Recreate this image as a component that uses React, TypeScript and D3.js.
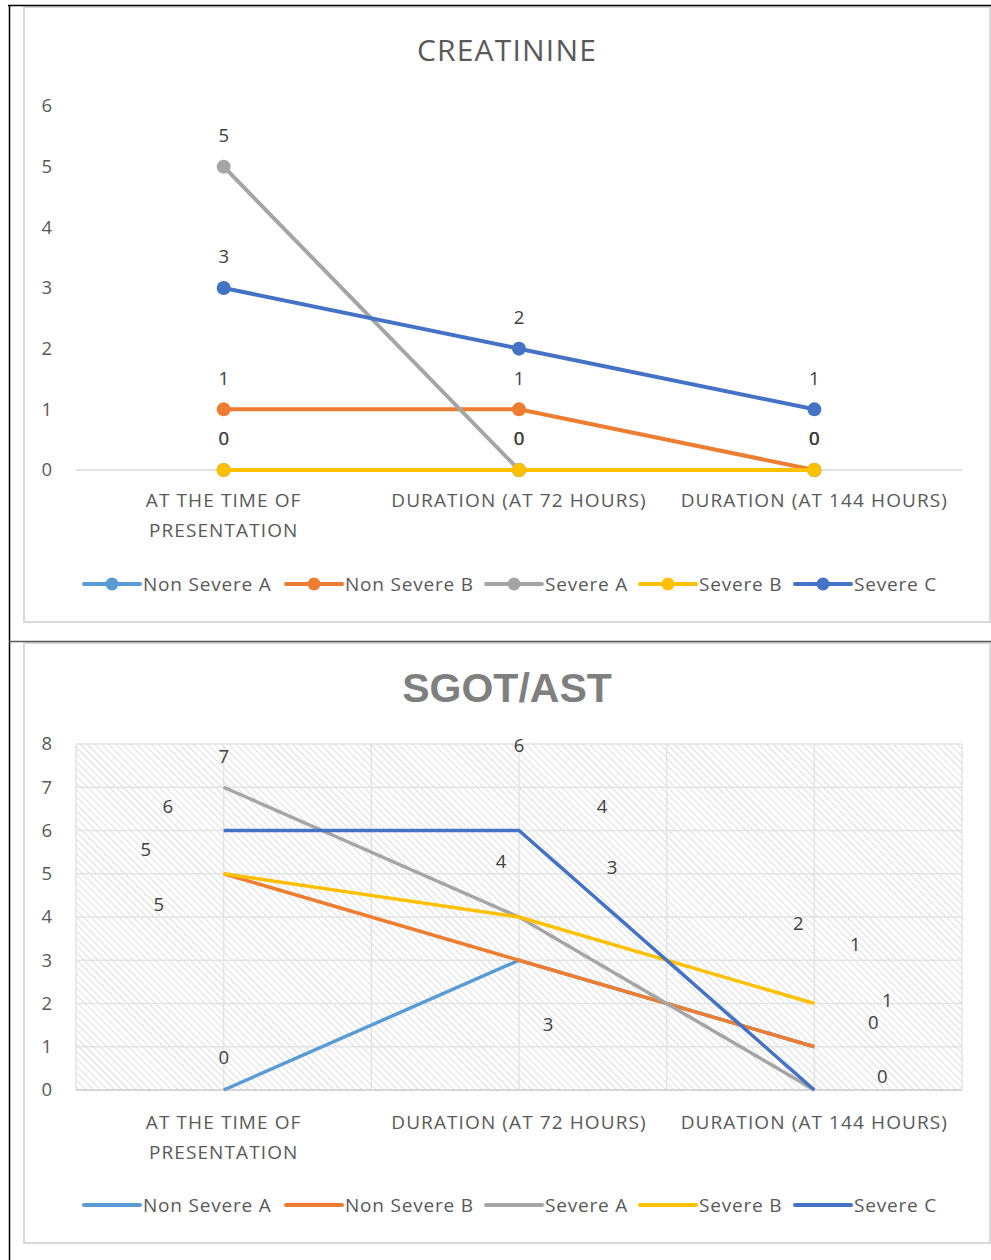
import React from "react";
import * as d3 from "d3";

const categories = ["AT THE TIME OF|PRESENTATION", "DURATION (AT 72 HOURS)", "DURATION (AT 144 HOURS)"];
const seriesNames = ["Non Severe A", "Non Severe B", "Severe A", "Severe B", "Severe C"];
const seriesColors = ["#5B9BD5", "#ED7D31", "#A5A5A5", "#FFC000", "#4472C4"];

// Creatinine values
const creatNonSevereA = [0, 0, 0];
const creatNonSevereB = [1, 1, 0];
const creatSevereA = [5, 0, 0];
const creatSevereB = [0, 0, 0];
const creatSevereC = [3, 2, 1];
const creatTicks = [0, 1, 2, 3, 4, 5, 6];

// SGOT/AST values
const astNonSevereA = [0, 3, 1];
const astNonSevereB = [5, 3, 1];
const astSevereA = [7, 4, 0];
const astSevereB = [5, 4, 2];
const astSevereC = [6, 6, 0];
const astTicks = [0, 1, 2, 3, 4, 5, 6, 7, 8];

// label nudges (px) for the misplaced data labels in the SGOT chart
const astLabelNudges: [number, number][][] = [
  [[0, -32], [29, 64], [73, -46]],
  [[-65, 31], [93, -93], [41, -102]],
  [[0, -31], [-18, -55], [59, -67]],
  [[-78, -24], [83, -110], [-16, -80]],
  [[-56, -24], [0, -85], [68, -13]],
];

const FONT = "'Open Sans', 'Noto Sans', sans-serif";
const TXT = "#595959";

function CatLabels({ x, y }: { x: d3.ScalePoint<string>; y: number }) {
  return (
    <g>
      {categories.map((c) => (
        <text key={c} x={x(c)} y={y} dy="0.35em" textAnchor="middle" fontFamily={FONT} fontSize={19} fill={TXT} letterSpacing={1.1}>
          {c.split("|").map((line, i) => (
            <tspan key={i} x={x(c)} dy={i === 0 ? "0.35em" : 30}>{line}</tspan>
          ))}
        </text>
      ))}
    </g>
  );
}

function Legend({ y, markers }: { y: number; markers: boolean }) {
  const starts = [84, 286, 486, 640, 795];
  return (
    <g>
      {seriesNames.map((n, i) => (
        <g key={n}>
          <line x1={starts[i]} x2={starts[i] + 56} y1={y} y2={y} stroke={seriesColors[i]} strokeWidth={4} strokeLinecap="round" />
          {markers && <circle cx={starts[i] + 28} cy={y} r={6.5} fill={seriesColors[i]} />}
          <text x={starts[i] + 59} y={y} dy="0.35em" fontFamily={FONT} fontSize={19} fill={TXT} letterSpacing={0.8}>{n}</text>
        </g>
      ))}
    </g>
  );
}

function Creatinine() {
  const data = [creatNonSevereA, creatNonSevereB, creatSevereA, creatSevereB, creatSevereC];
  const x = d3.scalePoint<string>().domain(categories).range([76, 962]).padding(0.5);
  const y = d3.scaleLinear().domain([0, 6]).range([470, 106]);
  const line = d3.line<number>().x((_, i) => x(categories[i])!).y((d) => y(d));
  return (
    <g>
      <rect x={24} y={7} width={966} height={615} fill="#fff" stroke="#d9d9d9" strokeWidth={2} />
      <text x={507} y={50} textAnchor="middle" dy="0.35em" fontFamily={FONT} fontSize={30} fill={TXT} letterSpacing={1.2}>CREATININE</text>
      {creatTicks.map((t) => (
        <text key={t} x={52} y={y(t)} dy="0.35em" textAnchor="end" fontFamily={FONT} fontSize={18.5} fill={TXT}>{t}</text>
      ))}
      <line x1={76} x2={962} y1={y(0)} y2={y(0)} stroke="#d9d9d9" strokeWidth={1.5} />
      {data.map((s, si) => (
        <g key={si}>
          <path d={line(s)!} fill="none" stroke={seriesColors[si]} strokeWidth={4} />
          {s.map((v, i) => (
            <circle key={i} cx={x(categories[i])} cy={y(v)} r={7} fill={seriesColors[si]} />
          ))}
        </g>
      ))}
      {data.map((s, si) =>
        s.map((v, i) => (
          <text key={si + "-" + i} x={x(categories[i])} y={y(v) - 31} dy="0.35em" textAnchor="middle" fontFamily={FONT} fontSize={18.5} fill="#404040">{v}</text>
        ))
      )}
      <CatLabels x={x} y={500} />
      <Legend y={584} markers={true} />
    </g>
  );
}

function Sgot() {
  const data = [astNonSevereA, astNonSevereB, astSevereA, astSevereB, astSevereC];
  const x = d3.scalePoint<string>().domain(categories).range([76, 962]).padding(0.5);
  const y = d3.scaleLinear().domain([0, 8]).range([1090, 744]);
  const line = d3.line<number>().x((_, i) => x(categories[i])!).y((d) => y(d));
  const step = x.step();
  const vlines = [0, 1, 2, 3, 4, 5, 6].map((k) => 76 + (k * step) / 2);
  return (
    <g>
      <defs>
        <pattern id="hatch" width={5} height={5} patternUnits="userSpaceOnUse" patternTransform="rotate(-45)">
          <rect width={5} height={5} fill="#ffffff" />
          <line x1={0} y1={0} x2={0} y2={5} stroke="#d6d6d6" strokeWidth={1.6} />
        </pattern>
      </defs>
      <rect x={24} y={643} width={966} height={600} fill="#fff" stroke="#d9d9d9" strokeWidth={2} />
      <text x={507} y={688} textAnchor="middle" dy="0.35em" fontFamily="'Liberation Sans', Arial, sans-serif" fontWeight="bold" fontSize={41} fill="#7f7f7f">SGOT/AST</text>
      <rect x={76} y={y(8)} width={886} height={y(0) - y(8)} fill="url(#hatch)" />
      {astTicks.map((t) => (
        <line key={"g" + t} x1={76} x2={962} y1={y(t)} y2={y(t)} stroke="#e3e3e3" strokeWidth={1.5} />
      ))}
      {vlines.map((vx, i) => (
        <line key={"v" + i} x1={vx} x2={vx} y1={y(8)} y2={y(0)} stroke="#e3e3e3" strokeWidth={1.5} />
      ))}
      <line x1={76} x2={962} y1={y(0)} y2={y(0)} stroke="#d0d0d0" strokeWidth={1.5} />
      {astTicks.map((t) => (
        <text key={t} x={52} y={y(t)} dy="0.35em" textAnchor="end" fontFamily={FONT} fontSize={18.5} fill={TXT}>{t}</text>
      ))}
      {data.map((s, si) => (
        <path key={si} d={line(s)!} fill="none" stroke={seriesColors[si]} strokeWidth={3.5} />
      ))}
      {data.map((s, si) =>
        s.map((v, i) => (
          <text key={si + "-" + i} x={x(categories[i])! + astLabelNudges[si][i][0]} y={y(v) + astLabelNudges[si][i][1]} dy="0.35em" textAnchor="middle" fontFamily={FONT} fontSize={18.5} fill="#404040">{v}</text>
        ))
      )}
      <CatLabels x={x} y={1122} />
      <Legend y={1205} markers={false} />
    </g>
  );
}

export default function App() {
  return (
    <svg width={991} height={1260} style={{ position: "absolute", left: 0, top: 0, background: "#fff" }}>
      <rect width={991} height={1260} fill="#fff" />
      <Creatinine />
      <Sgot />
      <line x1={8} x2={991} y1={5.5} y2={5.5} stroke="#000" strokeWidth={1.5} />
      <line x1={9.5} x2={9.5} y1={5} y2={1260} stroke="#000" strokeWidth={1.5} />
      <line x1={9} x2={991} y1={641.5} y2={641.5} stroke="#595959" strokeWidth={1.5} />
    </svg>
  );
}
